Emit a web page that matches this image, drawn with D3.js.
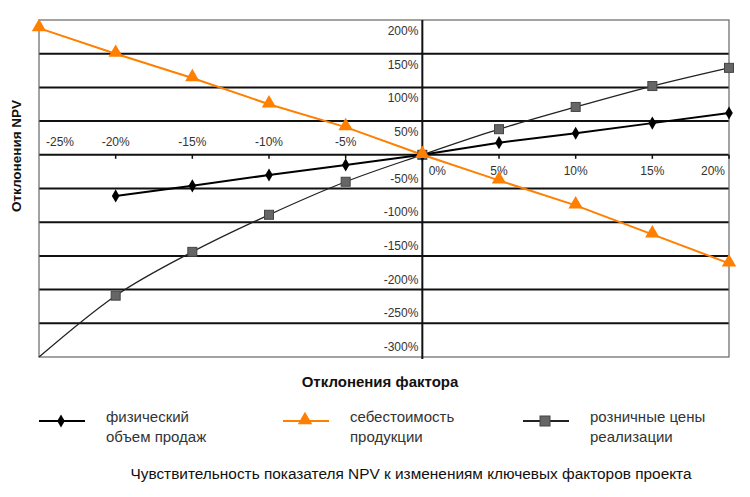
<!DOCTYPE html>
<html>
<head>
<meta charset="utf-8">
<script src="https://cdn.jsdelivr.net/npm/d3@7"></script>
<style>
  body { margin: 0; background: #fff; }
  svg { display: block; font-family: "Liberation Sans", Arial, sans-serif; }
</style>
</head>
<body>
<svg width="750" height="497"></svg>
<script>
// значения
const factorTicks = [-25, -20, -15, -10, -5, 0, 5, 10, 15, 20];
const npvTicks = [200, 150, 100, 50, 0, -50, -100, -150, -200, -250, -300];

const volumeX = [-20, -15, -10, -5, 0, 5, 10, 15, 20];
const volumeY = [-61, -46, -30, -15, 0, 18, 32, 47, 62];

const costX = [-25, -20, -15, -10, -5, 0, 5, 10, 15, 20];
const costY = [188, 150, 114, 75, 41, 0, -38, -75, -118, -161];

const priceX = [-25, -20, -15, -10, -5, 0, 5, 10, 15, 20];
const priceY = [-300, -209, -144, -89, -40, 0, 38, 71, 102, 129];

const seriesNames = [["физический", "объем продаж"], ["себестоимость", "продукции"], ["розничные цены", "реализации"]];

let plot = { left: 39, right: 729, top: 20, bottom: 357 };

let x = d3.scaleLinear().domain([-25, 20]).range([plot.left, plot.right]);
let y = d3.scaleLinear().domain([-300, 200]).range([plot.bottom, plot.top]);

let svg = d3.select("svg");

// горизонтальные линии сетки
svg.append("g")
  .selectAll("line")
  .data(npvTicks.filter(d => d > -300 && d < 200))
  .join("line")
  .attr("x1", plot.left).attr("x2", plot.right)
  .attr("y1", d => y(d)).attr("y2", d => y(d))
  .attr("stroke", "#111").attr("stroke-width", 2);

// рамка
svg.append("rect")
  .attr("x", plot.left).attr("y", plot.top)
  .attr("width", plot.right - plot.left).attr("height", plot.bottom - plot.top)
  .attr("fill", "none").attr("stroke", "#666").attr("stroke-width", 1.2);

// вертикальная ось в нуле
svg.append("line")
  .attr("x1", x(0)).attr("x2", x(0))
  .attr("y1", plot.top).attr("y2", plot.bottom + 2)
  .attr("stroke", "#111").attr("stroke-width", 2);

// подписи оси Y
svg.append("g")
  .selectAll("text")
  .data(npvTicks.filter(d => d !== 0))
  .join("text")
  .attr("x", x(0) - 4)
  .attr("y", d => d > 0 ? y(d) + 15 : y(d) - 6)
  .attr("text-anchor", "end")
  .attr("font-size", 12)
  .attr("fill", "#333")
  .text(d => d + "%");

// засечки и подписи оси X
svg.append("g")
  .selectAll("line")
  .data(factorTicks.filter(d => d !== 0 && d > -25))
  .join("line")
  .attr("x1", d => x(d)).attr("x2", d => x(d))
  .attr("y1", y(0)).attr("y2", y(0) + 4)
  .attr("stroke", "#111").attr("stroke-width", 1.5);

let labelShift = { "-25": 21, "0": 15, "20": -16 };
svg.append("g")
  .selectAll("text")
  .data(factorTicks)
  .join("text")
  .attr("x", d => x(d) + (labelShift[d] || 0))
  .attr("y", d => d < 0 ? y(0) - 9 : y(0) + 20)
  .attr("text-anchor", "middle")
  .attr("font-size", 12)
  .attr("fill", "#333")
  .text(d => d + "%");

// линии рядов
let line = d3.line().x(d => x(d[0])).y(d => y(d[1]));
let curve = d3.line().x(d => x(d[0])).y(d => y(d[1])).curve(d3.curveMonotoneX);

let volume = volumeX.map((v, i) => [v, volumeY[i]]);
let cost = costX.map((v, i) => [v, costY[i]]);
let price = priceX.map((v, i) => [v, priceY[i]]);

svg.append("path").datum(price).attr("d", curve)
  .attr("fill", "none").attr("stroke", "#222").attr("stroke-width", 1.3);
svg.append("path").datum(volume).attr("d", line)
  .attr("fill", "none").attr("stroke", "#000").attr("stroke-width", 2);
svg.append("path").datum(cost).attr("d", line)
  .attr("fill", "none").attr("stroke", "#ff7f00").attr("stroke-width", 2);

let diamond = d3.symbol().type(d3.symbolDiamond).size(50);
let triangle = d3.symbol().type(d3.symbolTriangle).size(90);

svg.append("g").selectAll("rect")
  .data(price.filter(d => d[1] > -300))
  .join("rect")
  .attr("x", d => x(d[0]) - 4.5).attr("y", d => y(d[1]) - 4.5)
  .attr("width", 9).attr("height", 9)
  .attr("fill", "#666").attr("stroke", "#444").attr("stroke-width", 1);

svg.append("g").selectAll("path")
  .data(volume)
  .join("path")
  .attr("transform", d => `translate(${x(d[0])},${y(d[1])})`)
  .attr("d", diamond)
  .attr("fill", "#000");

svg.append("g").selectAll("path")
  .data(cost)
  .join("path")
  .attr("transform", d => `translate(${x(d[0])},${y(d[1]) - 1})`)
  .attr("d", triangle)
  .attr("fill", "#ff7f00");

// названия осей
svg.append("text")
  .attr("transform", "translate(21,156) rotate(-90)")
  .attr("text-anchor", "middle")
  .attr("font-size", 13.5).attr("font-weight", "bold")
  .attr("fill", "#111")
  .text("Отклонения NPV");

svg.append("text")
  .attr("x", 380).attr("y", 387)
  .attr("text-anchor", "middle")
  .attr("font-size", 15).attr("font-weight", "bold")
  .attr("fill", "#111")
  .text("Отклонения фактора");

// легенда
let legendX = [39, 283, 523];
let legend = svg.append("g").selectAll("g")
  .data(seriesNames)
  .join("g")
  .attr("transform", (d, i) => `translate(${legendX[i]},421)`);

legend.append("line")
  .attr("x1", 0).attr("x2", 46)
  .attr("stroke", (d, i) => i === 1 ? "#ff7f00" : i === 0 ? "#000" : "#222")
  .attr("stroke-width", 2);

legend.filter((d, i) => i === 0).append("path")
  .attr("transform", "translate(22,0)").attr("d", diamond).attr("fill", "#000");
legend.filter((d, i) => i === 1).append("path")
  .attr("transform", "translate(22,-1)").attr("d", triangle).attr("fill", "#ff7f00");
legend.filter((d, i) => i === 2).append("rect")
  .attr("x", 17).attr("y", -5).attr("width", 10).attr("height", 10)
  .attr("fill", "#666").attr("stroke", "#444");

legend.append("text")
  .attr("x", 67).attr("y", 1)
  .attr("font-size", 15).attr("fill", "#333")
  .text(d => d[0]);
legend.append("text")
  .attr("x", 67).attr("y", 21)
  .attr("font-size", 15).attr("fill", "#333")
  .text(d => d[1]);

svg.append("text")
  .attr("x", 411).attr("y", 479)
  .attr("text-anchor", "middle")
  .attr("font-size", 15.4).attr("fill", "#111")
  .text("Чувствительность показателя NPV к изменениям ключевых факторов проекта");
</script>
</body>
</html>
